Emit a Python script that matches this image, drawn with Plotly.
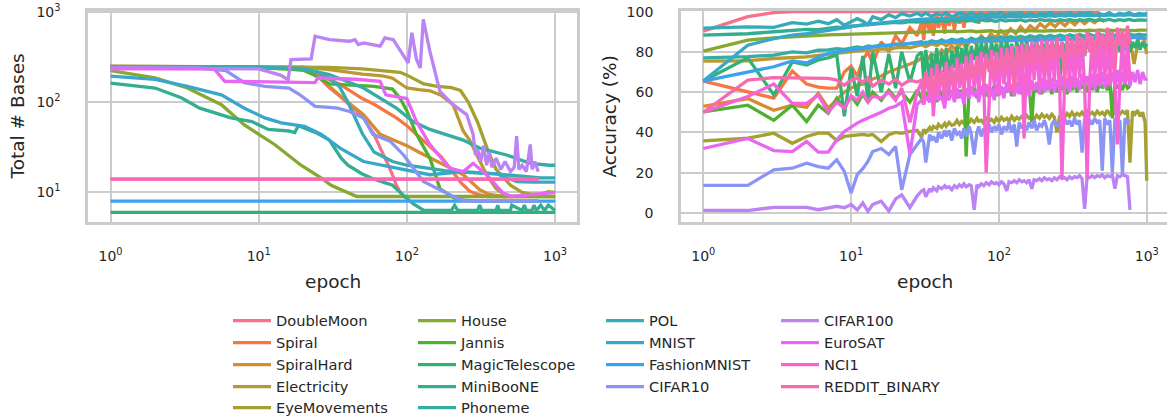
import math
import numpy as np
import plotly.graph_objects as go

# ---------------- colours: seaborn husl palette (18 colours) ----------------
_M = [[3.2406, -1.5372, -0.4986], [-0.9689, 1.8758, 0.0415], [0.0557, -0.2040, 1.0570]]
_refU, _refV, _lab_e, _lab_k = 0.19784, 0.46834, 0.008856, 903.3


def _max_chroma(L, H):
    hrad = math.radians(H)
    sinH, cosH = math.sin(hrad), math.cos(hrad)
    sub1 = (L + 16) ** 3 / 1560896.0
    sub2 = sub1 if sub1 > _lab_e else L / _lab_k
    result = float("inf")
    for m1, m2, m3 in _M:
        top = (0.99915 * m1 + 1.05122 * m2 + 1.14460 * m3) * sub2
        rbottom = 0.86330 * m3 - 0.17266 * m2
        lbottom = 0.12949 * m3 - 0.38848 * m1
        bottom = (rbottom * sinH + lbottom * cosH) * sub2
        for t in (0.0, 1.0):
            C = L * (top - 1.05122 * t) / (bottom + 0.17266 * sinH * t)
            if 0.0 < C < result:
                result = C
    return result


def _husl_to_hex(H, S, L):
    C = _max_chroma(L, H) / 100.0 * S
    U, V = math.cos(math.radians(H)) * C, math.sin(math.radians(H)) * C
    t = (L + 16.0) / 116.0
    varY = t ** 3 if t ** 3 > _lab_e else (116.0 * t - 16.0) / _lab_k
    varU = U / (13.0 * L) + _refU
    varV = V / (13.0 * L) + _refV
    Y = varY
    X = 0.0 - (9.0 * Y * varU) / ((varU - 4.0) * varV - varU * varV)
    Z = (9.0 * Y - (15.0 * varV * Y) - (varV * X)) / (3.0 * varV)
    out = []
    for row in _M:
        c = row[0] * X + row[1] * Y + row[2] * Z
        c = 12.92 * c if c <= 0.0031308 else 1.055 * c ** (1 / 2.4) - 0.055
        out.append(int(round(min(max(c, 0), 1) * 255)))
    return "#%02x%02x%02x" % tuple(out)


def husl_palette(n, h=0.01, s=0.9, l=0.65):
    hues = (np.linspace(0, 1, n + 1)[:-1] + h) % 1 * 359
    return [_husl_to_hex(hh, s * 99, l * 99) for hh in hues]


# ---------------- data ----------------
DATASETS = ["DoubleMoon", "Spiral", "SpiralHard", "Electricity", "EyeMovements",
            "House", "Jannis", "MagicTelescope", "MiniBooNE", "Phoneme",
            "POL", "MNIST", "FashionMNIST", "CIFAR10", "CIFAR100",
            "EuroSAT", "NCI1", "REDDIT_BINARY"]

# ---- Total # Bases (left panel): epochs and values per dataset ----
bases_DoubleMoon_ep = [1, 3, 6, 10, 15, 20, 25, 30, 35, 40, 45, 50, 55, 60, 65, 70, 75, 80, 85, 90, 95, 100]
bases_DoubleMoon = [248, 248, 247, 245, 240, 228, 195, 145, 118, 96, 82, 70, 55, 44, 33, 26, 20, 15.5, 12, 10, 9, 8.6]
bases_Spiral_ep = [1, 5, 10, 15, 20, 25, 30, 35, 40, 50, 60, 70, 85, 100, 120, 143, 170, 195, 230, 265, 300, 350, 400, 481]
bases_Spiral = [245, 245, 243, 238, 230, 215, 178, 160, 140, 110, 95, 82, 67, 55, 42, 33, 25, 18.6, 13, 10.3, 9.5, 9, 9, 9]
bases_SpiralHard_ep = [1, 10, 20, 25, 30, 35, 40, 51, 66, 85, 100, 120, 143, 180, 240, 280, 310, 360, 445, 518]
bases_SpiralHard = [245, 244, 235, 210, 150, 120, 100, 73, 44, 37, 33, 28, 24, 20, 15.7, 12.5, 10.7, 9.5, 9, 9]
bases_Electricity_ep = [1, 10, 20, 30, 40, 50, 60, 70, 80, 100, 120, 143, 170, 205, 240, 265, 300, 350, 400, 450, 500, 1000]
bases_Electricity = [250, 248, 245, 230, 215, 205, 200, 195, 185, 144, 138, 134, 120, 94, 48, 38, 25, 15, 11, 9.5, 9, 9]
bases_EyeMovements_ep = [1, 10, 20, 30, 50, 70, 90, 100, 130, 160, 200, 230, 260, 300, 350, 400, 500, 600, 700, 800, 900, 1000]
bases_EyeMovements = [252, 250, 248, 244, 235, 225, 215, 200, 160, 150, 145, 135, 100, 60, 30, 18, 12, 10, 9.5, 9.5, 10.2, 10]
bases_House_ep = [1, 2, 3.3, 5.6, 8, 12.8, 19.3, 26.5, 31, 46, 100, 300, 1000]
bases_House = [224, 186, 144, 94, 56, 34, 20, 14.4, 11.9, 9.0, 9, 9, 9]
bases_Jannis_ep = [1, 10, 20, 23, 30, 40, 60, 80, 90, 100, 116, 143, 167, 217, 300, 500, 770]
bases_Jannis = [245, 243, 228, 205, 160, 155, 150, 140, 110, 80, 44, 24, 11, 8.3, 8, 8, 8]
bases_MagicTelescope_ep = [1, 1000]
bases_MagicTelescope = [6, 6]
bases_MiniBooNE_ep = [1, 2, 3, 4, 6.5, 9, 11.6, 14, 16, 17.5, 18.5, 20, 25, 30, 33, 36, 40, 50, 60, 70,
                      80, 90, 100, 110, 130, 200, 210, 220, 300, 310, 320, 400, 410, 420, 500, 510, 600, 620, 640, 700,
                      720, 750, 800, 850, 900, 1000]
bases_MiniBooNE = [163, 144, 112, 86, 67, 61, 50, 49, 48, 46, 55, 52, 45, 38, 30, 24, 20, 16, 14, 13,
                   12, 10, 8.5, 7.5, 6.3, 6.3, 7.2, 6.3, 6.3, 7.2, 6.3, 6.3, 7.2, 6.3, 6.3, 7.2, 6.3, 7.2, 6.3, 6.3,
                   7.2, 6.3, 7.2, 6.3, 7.2, 6.3]
bases_Phoneme_ep = [1, 10, 20, 30, 51, 85, 110, 143, 240, 310, 470, 680, 920, 1000]
bases_Phoneme = [245, 243, 235, 203, 144, 86, 61, 50, 38, 31, 26, 21, 20, 20]
bases_POL_ep = [1, 10, 20, 25, 30, 35, 40, 50, 60, 80, 100, 200, 400, 600, 800, 1000]
bases_POL = [245, 244, 236, 215, 185, 150, 100, 45, 28, 22, 20, 17, 16, 15, 14.5, 14.5]
bases_MNIST_ep = [1, 2, 3.3, 5.6, 8, 11, 14.2, 20.4, 26.5, 32.6, 35.4, 51, 85, 143, 240, 405, 550, 700, 1000]
bases_MNIST = [195, 180, 150, 121, 86, 67, 59, 54, 44, 34, 31, 22, 18.6, 15.7, 17, 16, 13.2, 13, 13]
bases_FashionMNIST_ep = [1, 1000]
bases_FashionMNIST = [8, 8]
bases_CIFAR10_ep = [1, 4, 6, 8, 11, 16, 19, 24, 30, 34, 41, 51, 59, 77, 95, 110, 129, 167, 217, 250, 770]
bases_CIFAR10 = [242, 240, 225, 165, 150, 144, 121, 90, 88, 86, 79, 67, 44, 37, 26, 18.6, 13.2, 10.7, 8.6, 8, 8]
bases_CIFAR100_ep = [1, 10, 14, 15.8, 16.5, 22.6, 24, 30, 41, 44.6, 47, 51, 66, 71, 81, 94.5, 102, 108, 116, 123,
                     129, 143, 167, 205, 253, 280, 290, 300, 315, 330, 345, 360, 375, 400, 430, 460, 500, 530, 550, 570,
                     600, 640, 680, 700, 730, 770]
bases_CIFAR100 = [240, 235, 200, 178, 297, 303, 541, 495, 476, 495, 436, 456, 419, 518, 495, 338, 273, 590, 300, 240,
                  830, 368, 132, 94, 73, 44, 26, 30, 22, 33, 20, 28, 19, 24, 18, 22, 17, 19, 42, 18,
                  20, 17, 34, 18, 22, 17]
bases_EuroSAT_ep = [1, 5, 5.9, 24, 25, 45, 66, 72, 100, 116, 143, 194, 240, 280, 345, 445, 510, 1000]
bases_EuroSAT = [235, 235, 171, 165, 186, 180, 171, 121, 110, 61, 34, 18.6, 17, 21, 15.7, 9.8, 9, 10]
bases_NCI1_ep = [1, 770]
bases_NCI1 = [14, 14]
bases_REDDIT_BINARY_ep = [1, 780]
bases_REDDIT_BINARY = [14, 14]

# ---- Accuracy (%) (right panel) ----
# coarse epoch grid (smoother series) and dense grid (noisy series); series are truncated to their length
ACC_EPOCHS = [1, 2, 3, 4, 5, 6, 7, 8, 9, 10, 11, 12, 13, 14, 16, 18, 20, 22, 25, 28,
              30, 32, 35, 38, 41, 44, 48, 52, 56, 60,
              65, 70, 76, 82, 88, 95, 103, 111, 120, 130,
              140, 151, 163, 176, 190, 205, 222, 240, 259, 280,
              302, 326, 352, 380, 411, 444, 479, 518, 559, 604,
              652, 704, 760, 821, 887, 958, 1000]
ACC_EPOCHS_DENSE = [1, 2, 3, 4, 5, 6, 7, 8, 9, 10, 11, 12, 13, 14, 16, 18, 20, 22, 25, 28,
                    30, 31, 32, 34, 35, 36, 38, 39, 41, 43,
                    44, 46, 48, 50, 52, 54, 56, 58, 60, 63,
                    65, 68, 71, 73, 76, 79, 82, 86, 89, 93,
                    96, 100, 104, 108, 113, 117, 122, 127, 132, 137,
                    143, 148, 154, 160, 167, 173, 180, 188, 195, 203,
                    211, 219, 228, 237, 247, 257, 267, 278, 289, 300,
                    312, 325, 338, 351, 365, 380, 395, 411, 427, 444,
                    462, 481, 500, 520, 541, 563, 585, 609, 633, 658,
                    685, 712, 741, 770, 801, 833, 867, 901, 937, 975,
                    1000]

acc_DoubleMoon_ep = [1, 2, 3, 4, 6, 10, 20, 50, 100]
acc_DoubleMoon = [90.3, 97.5, 99.5, 100, 100, 100, 100, 100, 100]

acc_Spiral_ep = ACC_EPOCHS_DENSE
acc_Spiral = [65.5, 60.0, 57.0, 70.5, 64.0, 62.5, 62.0, 62.0, 70.0, 73.0, 68.0, 76.0, 80.0, 74.0, 85.0, 80.0, 88.0, 84.0, 92.0, 88.0,
              95, 86, 97, 90, 98, 88, 99, 92, 97, 89,
              99, 93, 98, 91, 99.5, 94, 99, 92, 99.6, 95,
              99.8, 96, 99.7, 94, 99.9, 97, 99.8, 95, 99.9, 97,
              99.8, 99, 99.9, 99.3, 99.9, 99.2, 99.9, 99.4, 99.9, 99.1,
              99.9, 99.5, 99.9, 99.3, 99.9, 99.6, 99.9, 99.4, 99.9, 99.5,
              99.9, 99.6, 99.9, 99.4, 99.9, 99.7, 99.9, 99.5, 99.9, 99.6,
              99.9, 99.7, 99.9, 99.5, 99.9, 99.8, 99.9, 99.6, 99.9, 99.7,
              99.9, 99.8]
acc_SpiralHard_ep = ACC_EPOCHS
acc_SpiralHard = [52.9, 56.8, 51.0, 53.5, 52.5, 59.5, 52.0, 56.0, 60.0, 62.0, 63.5, 64.0, 65.0, 66.5, 68.0, 70.0, 71.5, 72.5, 74.0, 75.5,
                  77.0, 75.0, 79.0, 77.5, 81.0, 79.0, 83.0, 80.5, 85.0, 82.0,
                  86.5, 84.0, 88.0, 85.5, 89.0, 87.0, 90.5, 88.0, 91.5, 89.0,
                  92.5, 90.0, 93.0, 91.0, 94.0, 92.0, 94.5, 92.5, 95.0, 93.0,
                  95.5, 93.5, 96.0, 94.0, 96.0, 94.5, 96.5, 95.0]
acc_Electricity_ep = ACC_EPOCHS
acc_Electricity = [75.4, 75.6, 76.7, 77.0, 77.5, 78.3, 78.8, 79.2, 79.5, 80.0, 80.2, 80.5, 81.0, 80.8, 81.5, 81.2, 82.0, 82.3, 82.0, 83.0,
                   83.5, 82.6, 84.0, 83.2, 84.5, 83.0, 85.0, 83.8, 85.2, 84.0,
                   85.5, 84.2, 86.0, 84.5, 86.2, 85.0, 86.5, 84.8, 87.0, 85.2,
                   87.2, 85.5, 87.5, 85.0, 87.8, 85.8, 88.0, 86.0, 88.2, 86.2,
                   88.5, 86.0, 88.6, 86.5, 88.8, 86.6, 89.0, 86.8, 89.2, 86.5,
                   89.0, 87.0, 88.5, 74.0, 88.0, 86.0, 79.0]
acc_EyeMovements_ep = ACC_EPOCHS_DENSE
acc_EyeMovements = [35.8, 37.1, 39.6, 34.6, 38.0, 39.6, 39.6, 36.0, 38.0, 38.5, 38.8, 39.0, 38.5, 39.0, 35.5, 38.8, 40.0, 39.5, 40.5, 41.0,
                    37.5, 41.5, 40, 42.5, 41, 43, 42, 44, 42.5, 44.5,
                    43, 45, 43.5, 44, 46, 44, 45.5, 44.5, 46, 45,
                    46.5, 45, 47, 45.5, 46, 44.5, 47, 45.5, 46.5, 45,
                    47, 45.5, 47.5, 46, 47, 45.5, 48, 46, 47.5, 46.5,
                    48, 46.5, 48.5, 47, 48, 46.5, 48.5, 47, 49, 47.5,
                    48.5, 47, 49, 47.5, 40, 48, 49, 47.5, 49.5, 48,
                    50, 48, 49.5, 48.5, 50, 48, 50.5, 49, 50, 48.5,
                    50.5, 49, 50, 48.5, 51, 49, 50.5, 49.5, 51, 49,
                    50.5, 49.5, 51, 25, 50.5, 49, 51, 48, 50, 45,
                    16]
acc_House_ep = ACC_EPOCHS
acc_House = [80.4, 85.8, 87.0, 87.6, 88.0, 88.2, 88.4, 88.6, 88.7, 88.9, 89.0, 89.1, 89.2, 89.2, 89.4, 89.5, 89.6, 89.6, 89.8, 89.9,
             90.0, 89.7, 90.1, 89.8, 90.2, 90.0, 90.3, 89.9, 90.2, 90.1,
             90.4, 90.0, 90.3, 90.2, 90.5, 90.1, 90.4, 90.3, 90.5, 90.2,
             90.6, 90.3, 90.5, 90.4, 90.7, 90.3, 90.6, 90.4, 90.7, 90.5,
             90.8, 90.4, 90.7, 90.5, 90.8, 90.6, 90.9, 90.5, 90.8, 90.6,
             90.9, 90.7, 90.9, 90.6, 90.8, 90.7, 90.8]
acc_Jannis_ep = ACC_EPOCHS_DENSE
acc_Jannis = [50.2, 53.5, 46.0, 53.5, 45.4, 53.5, 49.5, 57.0, 52.0, 58.0, 54.0, 59.0, 55.0, 60.0, 56.0, 61.0, 57.0, 60.0, 55.0, 61.0,
              57, 62, 58, 61, 57, 62, 55, 63, 58, 61,
              56, 62, 58, 63, 57, 61, 59, 62, 28, 63,
              59, 62, 57, 63, 59, 64, 58, 62, 60, 63,
              58, 64, 59, 62, 60, 64, 58, 63, 60, 64,
              59, 63, 60, 64, 45, 63, 60, 65, 59, 64,
              61, 65, 59, 64, 60, 65, 61, 64, 59, 65,
              61, 64, 60, 65, 62, 64, 60, 65, 61, 66,
              60, 65, 62, 64, 61, 66, 47, 65, 62, 64,
              61, 65, 62, 63]
acc_MagicTelescope_ep = ACC_EPOCHS_DENSE
acc_MagicTelescope = [65.5, 77.0, 58.6, 75.0, 73.5, 76.0, 77.0, 78.5, 48.0, 72.0, 58.0, 78.0, 56.0, 80.0, 60.0, 79.0, 62.0, 80.0, 65.0, 78.0,
                      80, 66, 81, 64, 79, 68, 82, 65, 80, 70,
                      82, 67, 81, 72, 83, 70, 82, 74, 84, 72,
                      83, 76, 84, 74, 85, 77, 84, 75, 85, 78,
                      84, 76, 85, 77, 86, 78, 84, 76, 85, 79,
                      85, 77, 86, 78, 84, 79, 86, 77, 85, 80,
                      86, 78, 85, 79, 86, 62, 85, 80, 86, 78,
                      85, 79, 86, 80, 85, 78, 86, 81, 85, 79,
                      86, 80, 85, 81, 86, 79, 85, 82, 86, 80,
                      85, 81, 86, 80, 85, 82, 86, 81, 85, 82,
                      84]
acc_MiniBooNE_ep = ACC_EPOCHS
acc_MiniBooNE = [88.3, 89.0, 90.0, 90.6, 91.2, 91.0, 91.8, 92.3, 92.0, 92.8, 93.0, 93.2, 93.5, 93.4, 94.0, 94.2, 94.6, 94.4, 95.0, 94.8,
                 95.2, 94.6, 95.4, 94.9, 95.6, 95.0, 95.7, 95.1, 95.8, 95.3,
                 95.6, 95.0, 95.9, 95.4, 95.7, 95.1, 96.0, 95.3, 95.8, 95.5,
                 96.0, 95.2, 95.9, 95.4, 96.1, 95.6, 95.9, 95.3, 96.0, 95.5,
                 96.1, 95.4, 95.9, 95.6, 96.2, 95.5, 95.9, 95.7, 96.1, 95.4,
                 96.0, 95.6, 96.1, 95.5, 95.9, 95.8, 95.6]
acc_Phoneme_ep = ACC_EPOCHS
acc_Phoneme = [77.0, 77.6, 78.4, 80.0, 79.5, 80.8, 81.0, 81.6, 81.2, 82.0, 82.4, 82.0, 83.0, 82.6, 83.4, 83.0, 84.0, 83.5, 84.2, 84.5,
               85.0, 84.2, 85.5, 84.8, 86.0, 85.0, 86.3, 85.6, 86.5, 85.4,
               86.8, 86.0, 87.0, 86.2, 87.2, 86.5, 87.5, 86.7, 87.6, 86.9,
               87.8, 87.0, 88.0, 87.2, 88.1, 87.4, 88.2, 87.5, 88.3, 87.6,
               88.4, 87.8, 88.5, 87.7, 88.6, 87.9, 88.6, 88.0, 88.7, 88.1,
               88.8, 88.0, 88.9, 88.2, 88.8, 88.3, 88.6]
acc_POL_ep = ACC_EPOCHS
acc_POL = [91.8, 92.4, 92.2, 94.5, 93.8, 95.2, 94.0, 96.0, 93.2, 95.0, 96.5, 95.2, 93.5, 97.5, 96.0, 98.5, 97.0, 99.0, 97.8, 99.2,
           98.0, 99.3, 97.6, 99.0, 98.2, 99.5, 97.4, 98.8, 99.3, 98.0,
           99.6, 98.2, 99.1, 97.8, 99.4, 98.5, 99.6, 98.1, 99.2, 98.6,
           99.7, 98.0, 99.3, 97.9, 99.1, 98.6, 99.6, 98.2, 99.0, 98.5,
           99.5, 98.0, 99.2, 98.7, 99.6, 98.1, 99.0, 98.4, 99.5, 98.0,
           99.2, 98.6, 99.5, 98.3, 99.1, 98.7, 99.2]
acc_MNIST_ep = ACC_EPOCHS
acc_MNIST = [65.5, 83.3, 86.6, 88.3, 89.0, 90.0, 90.7, 91.5, 92.0, 92.4, 93.0, 93.4, 93.8, 94.0, 94.5, 95.0, 95.2, 95.6, 95.8, 96.0,
             96.3, 96.0, 96.6, 96.2, 96.8, 96.4, 97.0, 96.5, 97.1, 96.8,
             97.2, 96.9, 97.4, 97.0, 97.5, 97.1, 97.6, 97.2, 97.7, 97.3,
             97.8, 97.4, 97.9, 97.5, 98.0, 97.6, 98.0, 97.7, 98.1, 97.8,
             98.2, 97.8, 98.2, 97.9, 98.3, 98.0, 98.3, 98.0, 98.4, 98.1,
             98.4, 98.1, 98.5, 98.2, 98.4, 98.2, 98.3]
acc_FashionMNIST_ep = ACC_EPOCHS
acc_FashionMNIST = [65.5, 70.2, 72.6, 75.5, 74.5, 77.5, 79.2, 80.0, 80.5, 81.0, 81.5, 82.0, 82.2, 82.6, 83.0, 83.3, 83.6, 84.0, 84.2, 84.5,
                    84.2, 84.8, 84.4, 85.0, 84.6, 85.2, 84.8, 85.3, 85.0, 85.5,
                    85.1, 85.6, 85.2, 85.7, 85.3, 85.8, 85.4, 85.9, 85.5, 86.0,
                    85.6, 86.1, 85.7, 86.2, 85.8, 86.3, 85.9, 86.4, 86.0, 86.5,
                    86.1, 86.6, 86.2, 86.7, 86.3, 86.8, 86.4, 86.9, 86.5, 87.0,
                    86.6, 87.1, 86.7, 87.2, 86.8, 87.0, 86.5]
acc_CIFAR10_ep = ACC_EPOCHS_DENSE
acc_CIFAR10 = [13.7, 13.7, 21.4, 22.2, 24.7, 23.0, 22.2, 26.4, 20.6, 9.9, 19.0, 22.0, 25.6, 30.5, 32.0, 29.0, 33.0, 11.5, 29.0, 34.0,
               37, 35, 25, 39, 36, 38, 35, 40, 37, 41,
               38, 41, 36, 42, 39, 40, 37, 42, 38, 43,
               39, 29, 40, 43, 38, 42, 39, 44, 40, 43,
               41, 44, 39, 43, 41, 45, 40, 44, 33, 45,
               42, 44, 41, 45, 42, 46, 41, 44, 43, 46,
               42, 34, 44, 46, 43, 45, 42, 47, 44, 46,
               43, 47, 44, 46, 30, 47, 45, 46, 44, 47,
               45, 46, 21, 47, 44, 46, 20, 47, 45, 46,
               19, 47, 45, 46]
acc_CIFAR100_ep = ACC_EPOCHS_DENSE
acc_CIFAR100 = [1.3, 1.2, 2.8, 2.8, 2.8, 1.6, 2.4, 3.3, 2.6, 4.2, 1.5, 5.0, 0.8, 4.2, 5.8, 1.0, 7.0, 9.0, 2.6, 8.5,
                10.9, 11.5, 8, 12, 10.5, 12.5, 11, 13, 12, 13.5,
                12.5, 13, 11.5, 13.5, 12.5, 14, 13, 14.5, 13, 14,
                13.5, 1.5, 14, 13, 14.5, 13.5, 15, 14, 15.5, 14.5,
                15, 14, 15.5, 14.5, 11, 15.5, 15, 16, 15, 16.5,
                15.5, 16, 15, 16.5, 12, 16.5, 16, 17, 16, 17.5,
                16.5, 17, 16, 17.5, 16.5, 18, 17, 17.5, 16.5, 18,
                17, 18, 17.5, 18.5, 17, 2, 18, 17.5, 18.5, 17.5,
                18.5, 18, 19, 17.5, 18.5, 18, 19, 12, 18.5, 18,
                19, 18.5, 18, 1.5]
acc_EuroSAT_ep = ACC_EPOCHS_DENSE
acc_EuroSAT = [32.0, 37.0, 31.0, 30.5, 35.5, 30.2, 30.2, 36.3, 40.5, 42.9, 44.6, 46.0, 47.0, 47.9, 50.0, 52.0, 53.0, 55.0, 29.0, 54.0,
               56, 54, 58, 55, 59, 53, 60, 56, 58, 52,
               60, 56, 61, 55, 62, 57, 60, 54, 62, 57,
               63, 58, 61, 55, 63, 58, 64, 57, 62, 56,
               64, 59, 63, 57, 65, 60, 64, 58, 65, 59,
               66, 60, 64, 58, 66, 61, 65, 59, 67, 60,
               66, 61, 67, 60, 66, 62, 68, 61, 67, 60,
               68, 62, 67, 61, 69, 63, 68, 62, 69, 61,
               69, 63, 70, 62, 69, 64, 70, 63, 71, 62,
               70, 64, 71, 63, 70, 65, 71, 64, 70, 66,
               67]
acc_NCI1_ep = ACC_EPOCHS_DENSE
acc_NCI1 = [50.0, 57.8, 64.0, 54.4, 54.4, 58.5, 50.0, 55.0, 52.0, 58.0, 56.0, 60.0, 55.0, 58.0, 57.0, 60.0, 56.0, 62.0, 45.0, 60.0,
            65, 54, 70, 57, 72, 48, 74, 58, 71, 55,
            75, 60, 73, 56, 77, 62, 74, 58, 78, 61,
            79, 62, 76, 59, 80, 64, 20, 60, 81, 63,
            79, 58, 82, 64, 80, 61, 83, 60, 81, 63,
            84, 37, 82, 60, 85, 66, 83, 62, 86, 64,
            84, 63, 86, 65, 85, 66, 17, 66, 84, 64,
            86, 62, 87, 67, 85, 63, 17, 65, 86, 65,
            87, 64, 88, 66, 86, 63, 88, 65, 34, 65,
            86, 64, 85, 66]
acc_REDDIT_BINARY_ep = ACC_EPOCHS_DENSE
acc_REDDIT_BINARY = [50.0, 66.0, 67.2, 67.0, 67.0, 66.5, 66.8, 66.0, 63.4, 66.0, 67.0, 65.0, 67.0, 63.0, 66.0, 64.0, 66.5, 63.5, 66.0, 65.0,
                     66, 60, 70, 62, 68, 58, 72, 64, 70, 61,
                     73, 65, 71, 63, 75, 66, 72, 62, 76, 67,
                     74, 66, 78, 68, 75, 64, 79, 70, 77, 67,
                     80, 71, 78, 69, 82, 72, 79, 60, 83, 73,
                     81, 72, 84, 74, 82, 73, 85, 75, 83, 71,
                     86, 76, 84, 75, 87, 77, 85, 66, 88, 78,
                     86, 77, 89, 79, 87, 78, 90, 80, 88, 76,
                     91, 81, 89, 80, 92, 82, 90, 70, 92, 83,
                     91, 82, 93, 84]

X_TICK_VALS = [1, 10, 100, 1000]
X_TICK_TEXT = ["10<sup>0</sup>", "10<sup>1</sup>", "10<sup>2</sup>", "10<sup>3</sup>"]
Y1_TICK_VALS = [10, 100, 1000]
Y1_TICK_TEXT = ["10<sup>1</sup>", "10<sup>2</sup>", "10<sup>3</sup>"]
Y2_TICK_VALS = [0, 20, 40, 60, 80, 100]
X_TITLE = "epoch"
Y1_TITLE = "Total # Bases"
Y2_TITLE = "Accuracy (%)"

# ---------------- figure ----------------
g = globals()
colors = husl_palette(len(DATASETS))
# legend columns (column-major like the reference); the fifth row lives in its own small legends
legend_of = ["legend", "legend", "legend", "legend", "legend5",
             "legend2", "legend2", "legend2", "legend2", "legend6",
             "legend3", "legend3", "legend3", "legend3",
             "legend4", "legend4", "legend4", "legend4"]
LW = 3.3

fig = go.Figure()
for i, name in enumerate(DATASETS):
    fig.add_trace(go.Scatter(
        x=g["bases_%s_ep" % name], y=g["bases_%s" % name], mode="lines", name=name,
        line=dict(color=colors[i], width=LW), xaxis="x", yaxis="y",
        legend=legend_of[i], showlegend=True))
for i, name in enumerate(DATASETS):
    vals = g["acc_%s" % name]
    ep = g["acc_%s_ep" % name][:len(vals)]
    fig.add_trace(go.Scatter(
        x=ep, y=vals, mode="lines", name=name,
        line=dict(color=colors[i], width=LW), xaxis="x2", yaxis="y2", showlegend=False))

W, H = 1167, 417
FONT = "DejaVu Sans"
TXT = "#262626"
GRID = "#cccccc"


def px(x):
    return x / W


def py(y):
    return 1 - y / H


common_axis = dict(showgrid=True, gridcolor=GRID, gridwidth=2, showline=True, mirror=True,
                   linecolor=GRID, linewidth=3, zeroline=False, ticks="",
                   tickfont=dict(family=FONT, size=14, color=TXT))

fig.update_layout(
    width=W, height=H, autosize=False,
    margin=dict(l=0, r=0, t=0, b=0, pad=0, autoexpand=False),
    paper_bgcolor="white", plot_bgcolor="white",
    font=dict(family=FONT, color=TXT),
    xaxis=dict(type="log", domain=[px(88.3), px(577.3)], range=[-0.15, 3.15], anchor="y",
               tickvals=X_TICK_VALS, ticktext=X_TICK_TEXT, ticklabelstandoff=19, **common_axis),
    yaxis=dict(type="log", domain=[py(222), py(11)], range=[0.671, 3.013], anchor="x",
               tickvals=Y1_TICK_VALS, ticktext=Y1_TICK_TEXT, ticklabelstandoff=22, **common_axis),
    xaxis2=dict(type="log", domain=[px(681.1), 1.0], range=[-0.15, 3.137], anchor="y2",
                tickvals=X_TICK_VALS, ticktext=X_TICK_TEXT, ticklabelstandoff=19, **common_axis),
    yaxis2=dict(domain=[py(222), py(11)], range=[-4.5, 100.3], anchor="x2",
                tickvals=Y2_TICK_VALS, ticklabelstandoff=22, **common_axis),
    showlegend=True,
)

leg_common = dict(orientation="v", yanchor="top", xanchor="left", bgcolor="rgba(0,0,0,0)",
                  borderwidth=0, itemwidth=38, font=dict(family=FONT, size=14.6, color=TXT))
ROW1_TOP = 304.7
ROW5_TOP = ROW1_TOP + 4 * 21.75
fig.update_layout(
    legend=dict(x=px(228), y=py(ROW1_TOP), **leg_common),
    legend2=dict(x=px(413), y=py(ROW1_TOP), **leg_common),
    legend3=dict(x=px(601), y=py(ROW1_TOP), **leg_common),
    legend4=dict(x=px(776), y=py(ROW1_TOP), **leg_common),
    legend5=dict(x=px(228), y=py(ROW5_TOP), **leg_common),
    legend6=dict(x=px(413), y=py(ROW5_TOP), **leg_common),
)

ann = dict(showarrow=False, xref="paper", yref="paper", font=dict(family=FONT, size=18.5, color=TXT))
fig.add_annotation(text=X_TITLE, x=px(332.8), y=py(281), xanchor="center", yanchor="middle", **ann)
fig.add_annotation(text=X_TITLE, x=px(924.8), y=py(281), xanchor="center", yanchor="middle", **ann)
fig.add_annotation(text=Y1_TITLE, x=px(17), y=py(116.5), xanchor="center", yanchor="middle", textangle=-90, **ann)
fig.add_annotation(text=Y2_TITLE, x=px(609), y=py(116.5), xanchor="center", yanchor="middle", textangle=-90, **ann)

fig.write_html("out.html")
